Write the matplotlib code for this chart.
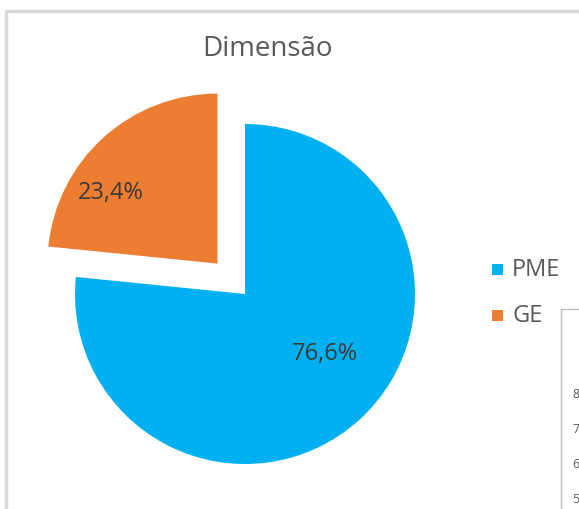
import matplotlib.pyplot as plt
from matplotlib.patches import Rectangle

# === Data ===
categories = ["PME", "GE"]
shares = [76.6, 23.4]
labels = ["76,6%", "23,4%"]
colors = ["#00B0F0", "#ED7D31"]

# === Figure in pixel coordinates ===
W, H = 579, 510
fig = plt.figure(figsize=(W / 100, H / 100), dpi=100)
ax = fig.add_axes([0, 0, 1, 1])

# chart frame (cut by the screenshot edge)
ax.plot([6, 6, W + 5], [-5, H - 12, H - 12], color="#D9D9D9", lw=2.5)
# neighbouring chart box at bottom right
ax.plot([561, 561, W + 5], [-5, H - 310, H - 310], color="#BFBFBF", lw=1)
for yy, ch in zip([395, 430, 465, 500], ["8", "7", "6", "5"]):
    ax.text(572, H - yy, ch, fontsize=9, color="#595959", va="center",
            ha="left", family="Open Sans")

# === Pie ===
ax.pie(shares, colors=colors, explode=[0, 41], startangle=90,
       counterclock=False, center=(245, H - 295), radius=170,
       wedgeprops=dict(linewidth=0), frame=True)
ax.set_xlim(0, W)
ax.set_ylim(0, H)
ax.set_aspect("equal")
ax.axis("off")

label_pos = [(325, 354), (111, 193)]
for (x, y), lab in zip(label_pos, labels):
    ax.text(x, H - y, lab, fontsize=17, color="#3A3A3A", ha="center",
            va="center", family="Open Sans")

ax.text(267, H - 49, "Dimensão", fontsize=20, color="#595959", ha="center",
        va="center", family="Open Sans")

# === Legend ===
for i, (cat, col) in enumerate(zip(categories, colors)):
    y = H - (270 + i * 46)
    ax.add_patch(Rectangle((492, y - 6), 11, 11, color=col, lw=0))
    ax.text(512, y, cat, fontsize=17, color="#595959", va="center",
            family="Open Sans")

fig.savefig("out.png", dpi=100)
